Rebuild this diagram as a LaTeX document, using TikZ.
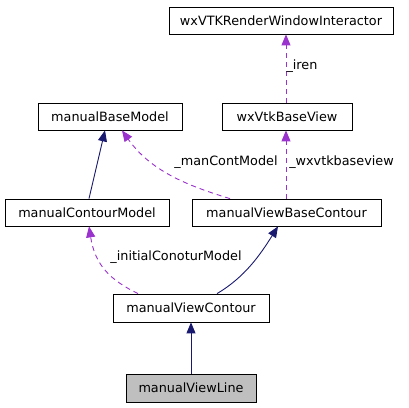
\documentclass[tikz,border=0pt]{standalone}
\usepackage{fontspec}
\setmainfont{DejaVu Sans}
\usetikzlibrary{arrows.meta}
\definecolor{navy}{HTML}{191970}
\definecolor{purp}{HTML}{9A32CD}
\begin{document}
\begin{tikzpicture}[x=1bp,y=-1bp,
  cls/.style={draw=black,line width=0.8bp,minimum height=27bp,inner sep=0pt,font=\fontsize{12.8bp}{14bp}\selectfont},
  inh/.style={draw=navy,line width=0.9bp,-{Triangle[length=11bp,width=9bp]}},
  use/.style={draw=purp,line width=0.9bp,dashed,dash pattern=on 5bp off 4bp,-{Triangle[length=11bp,width=9bp]}},
  lbl/.style={font=\fontsize{12.8bp}{14bp}\selectfont,inner sep=0pt}]
\useasboundingbox (0,0) rectangle (409,408);
\node[cls,minimum width=224bp] (wxi) at (281,20.5) {wxVTKRenderWindowInteractor};
\node[cls,minimum width=144bp] (mbm) at (110,116.5) {manualBaseModel};
\node[cls,minimum width=130bp] (wxv) at (287,116.5) {wxVtkBaseView};
\node[cls,minimum width=164bp] (mcm) at (87,212.5) {manualContourModel};
\node[cls,minimum width=189bp] (mvbc) at (286.5,212.5) {manualViewBaseContour};
\node[cls,minimum width=156bp,minimum height=28bp] (mvc) at (191,308) {manualViewContour};
\node[cls,minimum width=130bp,minimum height=28bp,fill=black!25] (mvl) at (191,388) {manualViewLine};
\draw[use] (wxv.north -| 286,0) -- (wxi.south -| 286,0);
\node[lbl] (liren) at (302,66) {\_iren};
\draw[inh] (mcm.north -| 89,0) -- (mbm.south -| 105,0);
\draw[use] (mvbc.north -| 230,0) .. controls (185,185) and (150,170) .. (mbm.south -| 122,0);
\node[lbl] (lman) at (226,162) {\_manContModel};
\draw[use] (mvbc.north -| 286,0) -- (wxv.south -| 286,0);
\node[lbl] (lwxv) at (341.5,162) {\_wxvtkbaseview};
\draw[inh] (mvc.north -| 217,0) .. controls (245,277) and (260,255) .. (mvbc.south -| 278,0);
\draw[use] (mvc.north -| 138,0) .. controls (110,280) and (95,265) .. (mcm.south -| 89,0);
\node[lbl] (lini) at (176,257) {\_initialConoturModel};
\draw[inh] (mvl.north) -- (mvc.south);
\end{tikzpicture}
\end{document}
